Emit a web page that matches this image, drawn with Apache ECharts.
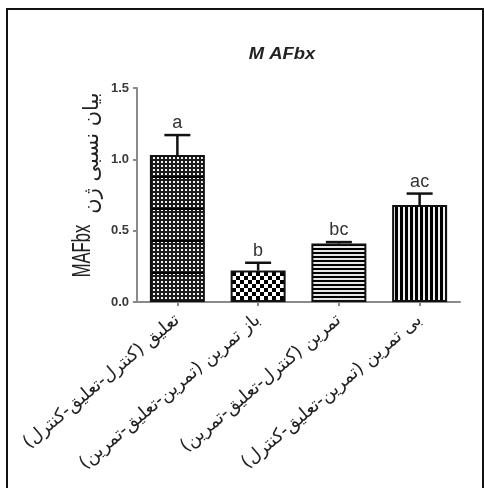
<!DOCTYPE html>
<html>
<head>
<meta charset="utf-8">
<script src="https://cdn.jsdelivr.net/npm/echarts@6/dist/echarts.min.js"></script>
<style>
  html, body { margin: 0; padding: 0; background: #fff; }
  #chart { width: 484px; height: 488px; }
</style>
</head>
<body>
<div id="chart"></div>
<script>
// Group names (x axis), mean relative expression, SEM and significance letters
const categories = [
  'تعلیق (کنترل-تعلیق-کنترل)',
  'باز تمرین (تمرین-تعلیق-تمرین)',
  'تمرین (کنترل-تعلیق-تمرین)',
  'بی تمرین (تمرین-تعلیق-کنترل)'
];
const means = [1.03, 0.22, 0.41, 0.68];
const sems = [0.14, 0.055, 0.01, 0.08];
const letters = ['a', 'b', 'bc', 'ac'];
const yMin = 0, yMax = 1.5, yStep = 0.5;

// Fill patterns for the four bars
function makePattern(w, h, draw) {
  const c = document.createElement('canvas');
  c.width = w; c.height = h;
  draw(c.getContext('2d'));
  return c;
}
const patterns = [
  makePattern(4, 32, g => {        // fine dotted grid with faint bands
    g.fillStyle = '#1c1c1c'; g.fillRect(0, 0, 4, 32);
    g.fillStyle = '#f4f4f4';
    for (let r = 0; r < 8; r++) g.fillRect(1, r * 4 + 1, 2, 2);
    g.fillStyle = '#000'; g.fillRect(0, 16, 4, 2);
  }),
  makePattern(8, 8, g => {         // checkerboard
    g.fillStyle = '#fff'; g.fillRect(0, 0, 8, 8);
    g.fillStyle = '#000'; g.fillRect(0, 0, 4, 4); g.fillRect(4, 4, 4, 4);
  }),
  makePattern(4, 4, g => {         // horizontal stripes
    g.fillStyle = '#e6e6e6'; g.fillRect(0, 0, 4, 4);
    g.fillStyle = '#000'; g.fillRect(0, 0, 4, 2);
  }),
  makePattern(5, 5, g => {         // vertical stripes
    g.fillStyle = '#000'; g.fillRect(0, 0, 5, 5);
    g.fillStyle = '#f0f0f0'; g.fillRect(3, 0, 2, 5);
  })
];

const chart = echarts.init(document.getElementById('chart'), null, { renderer: 'canvas' });

const option = {
  backgroundColor: '#fff',
  animation: false,
  grid: { left: 137, right: 24, top: 88, bottom: 186 },
  graphic: [
    { type: 'rect', shape: { x: 7, y: 9, width: 476, height: 500 },
      style: { fill: null, stroke: '#111', lineWidth: 2 }, silent: true },
    { type: 'text', x: 282, y: 55, scaleX: 1.15,
      style: { text: 'M AFbx', font: 'italic bold 16px Arial, "Liberation Sans", sans-serif',
               fill: '#222', align: 'center', verticalAlign: 'middle' } },
    { type: 'text', x: 83, y: 251, rotation: Math.PI / 2, scaleX: 0.64,
      style: { text: 'MAFbx', font: '26px Arial, "Liberation Sans", sans-serif',
               fill: '#222', align: 'center', verticalAlign: 'middle' } },
    { type: 'text', x: 93, y: 153, rotation: Math.PI / 2,
      style: { text: 'بیان نسبی ژن', font: '21px "DejaVu Sans", sans-serif',
               fill: '#222', align: 'center', verticalAlign: 'middle' } }
  ],
  xAxis: {
    type: 'category',
    data: categories,
    axisLine: { lineStyle: { color: '#8a8a8a', width: 2 } },
    axisTick: { show: true, alignWithLabel: true, length: 4, lineStyle: { color: '#8a8a8a', width: 2 } },
    axisLabel: {
      interval: 0, rotate: 40, margin: 16,
      fontFamily: '"DejaVu Sans", sans-serif', fontSize: 18, color: '#222'
    }
  },
  yAxis: {
    type: 'value',
    min: yMin, max: yMax, interval: yStep,
    splitLine: { show: false },
    axisLine: { show: true, lineStyle: { color: '#8a8a8a', width: 2 } },
    axisTick: { show: true, length: 4, lineStyle: { color: '#8a8a8a', width: 2 } },
    axisLabel: {
      formatter: v => v.toFixed(1), margin: 8,
      fontFamily: 'Arial, "Liberation Sans", sans-serif', fontWeight: 'bold', fontSize: 13, color: '#3a3a3a'
    }
  },
  series: [
    {
      type: 'bar',
      barWidth: 55,
      data: means.map((v, i) => ({
        value: v,
        itemStyle: { color: { image: patterns[i], repeat: 'repeat' } }
      })),
      itemStyle: { borderColor: '#111', borderWidth: 2 },
      z: 2
    },
    {
      type: 'custom',
      data: means.map((v, i) => [i, v, sems[i]]),
      z: 3,
      renderItem: (params, api) => {
        const i = api.value(0), m = api.value(1), e = api.value(2);
        const base = api.coord([i, m]);
        const top = api.coord([i, m + e]);
        const half = 13;
        return {
          type: 'group',
          children: [
            { type: 'line', shape: { x1: base[0], y1: base[1], x2: top[0], y2: top[1] },
              style: { stroke: '#111', lineWidth: 2.5 } },
            { type: 'line', shape: { x1: top[0] - half, y1: top[1], x2: top[0] + half, y2: top[1] },
              style: { stroke: '#111', lineWidth: 2.5 } },
            { type: 'text', x: top[0], y: top[1] - 3,
              style: { text: letters[params.dataIndex], font: '18px Arial, "Liberation Sans", sans-serif',
                       fill: '#333', align: 'center', verticalAlign: 'bottom' } }
          ]
        };
      }
    }
  ]
};
chart.setOption(option);
</script>
</body>
</html>
